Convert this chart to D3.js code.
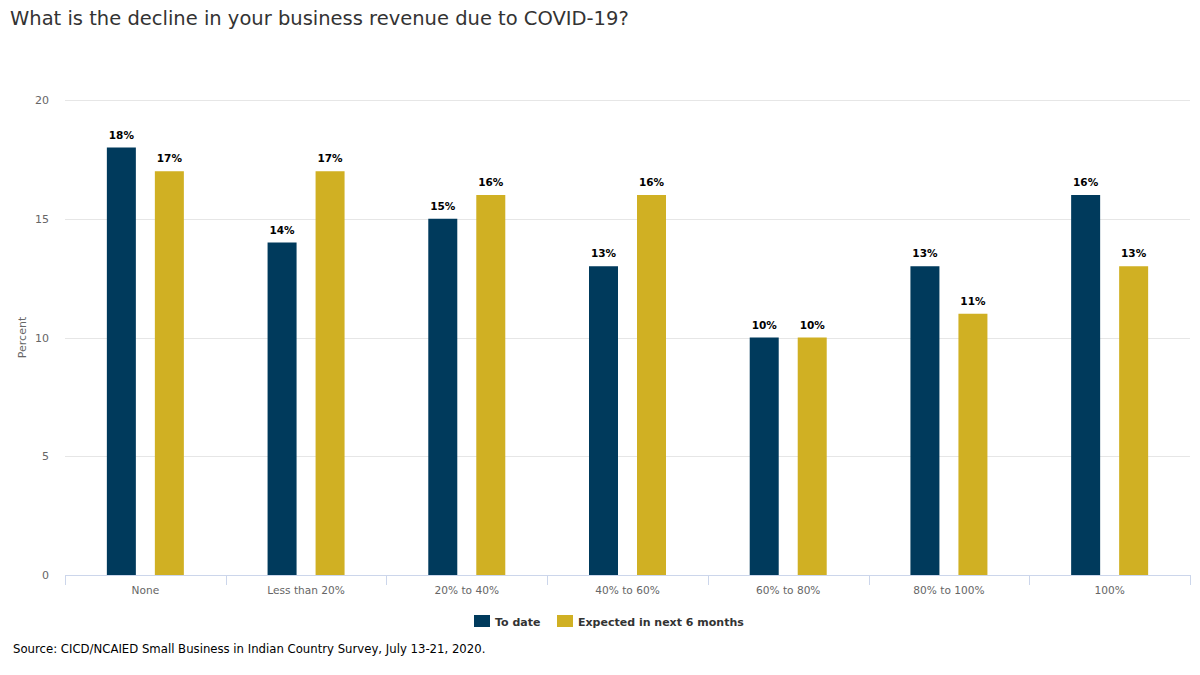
<!DOCTYPE html>
<html><head><meta charset="utf-8">
<script src="https://cdn.jsdelivr.net/npm/d3@7"></script>
<style>body{margin:0;background:#fff;font-family:"DejaVu Sans",Verdana,sans-serif;}</style>
</head><body><svg id="c" width="1200" height="675"></svg>
<script>
const categories=["None","Less than 20%","20% to 40%","40% to 60%","60% to 80%","80% to 100%","100%"];
const toDate=[18,14,15,13,10,13,16];
const expected=[17,17,16,16,10,11,13];
const seriesNames=["To date","Expected in next 6 months"];
const colors=["#003a5c","#d0b023"];
const yTicks=[0,5,10,15,20];

const svg=d3.select("#c");
const L=65,R=1190,T=100,B=575;
const x=d3.scaleBand().domain(categories).range([L,R]);
const y=d3.scaleLinear().domain([0,20]).range([B,T]);
const ff='"DejaVu Sans",Verdana,sans-serif';

svg.append("text").attr("x",10).attr("y",25).attr("font-size",19.5).attr("fill","#333").attr("font-family",ff)
 .text("What is the decline in your business revenue due to COVID-19?");

// grid
svg.append("g").selectAll("line").data(yTicks.filter(d=>d>0)).join("line")
 .attr("x1",L).attr("x2",R).attr("y1",d=>Math.round(y(d))+0.5).attr("y2",d=>Math.round(y(d))+0.5)
 .attr("stroke","#e6e6e6");
svg.append("g").selectAll("text").data(yTicks).join("text")
 .attr("x",49).attr("y",d=>y(d)+4).attr("text-anchor","end").attr("font-size",11).attr("fill","#666").attr("font-family",ff)
 .text(d=>d);
svg.append("text").attr("transform",`translate(26,${(T+B)/2}) rotate(-90)`).attr("text-anchor","middle")
 .attr("font-size",11).attr("fill","#666").attr("font-family",ff).text("Percent");

// x axis
const xa=svg.append("g");
xa.append("line").attr("x1",L).attr("x2",R).attr("y1",B+0.5).attr("y2",B+0.5).attr("stroke","#ccd6eb");
const edges=categories.map(c=>x(c)).concat([R]);
xa.selectAll("line.t").data(edges).join("line").attr("class","t")
 .attr("x1",d=>Math.round(d)+0.5).attr("x2",d=>Math.round(d)+0.5).attr("y1",B).attr("y2",B+10).attr("stroke","#ccd6eb");
xa.selectAll("text").data(categories).join("text")
 .attr("x",d=>x(d)+x.bandwidth()/2).attr("y",B+19).attr("text-anchor","middle")
 .attr("font-size",10.6).attr("fill","#666").attr("font-family",ff).text(d=>d);

// bars
const bw=29, off=24;
const series=[toDate,expected];
series.forEach((vals,si)=>{
  const g=svg.append("g");
  const cx=(i)=>x(categories[i])+x.bandwidth()/2+(si===0?-off:off);
  g.selectAll("rect").data(vals).join("rect")
   .attr("x",(d,i)=>cx(i)-bw/2).attr("width",bw)
   .attr("y",d=>y(d)).attr("height",d=>B-y(d)).attr("fill",colors[si]);
  g.selectAll("text").data(vals).join("text")
   .attr("x",(d,i)=>cx(i)).attr("y",d=>y(d)-9).attr("text-anchor","middle")
   .attr("font-size",10.5).attr("font-weight","bold").attr("fill","#000").attr("font-family",ff)
   .text(d=>d+"%");
});

// legend
const lg=svg.append("g");
const items=[{x:474,n:seriesNames[0],c:colors[0]},{x:557,n:seriesNames[1],c:colors[1]}];
items.forEach(it=>{
  lg.append("rect").attr("x",it.x).attr("y",615).attr("width",16).attr("height",12).attr("fill",it.c);
  lg.append("text").attr("x",it.x+21).attr("y",626).attr("font-size",11).attr("font-weight","bold")
   .attr("fill","#333").attr("font-family",ff).text(it.n);
});

svg.append("text").attr("x",13).attr("y",653).attr("font-size",11.7).attr("fill","#000").attr("font-family",ff)
 .text("Source: CICD/NCAIED Small Business in Indian Country Survey, July 13-21, 2020.");
</script></body></html>
